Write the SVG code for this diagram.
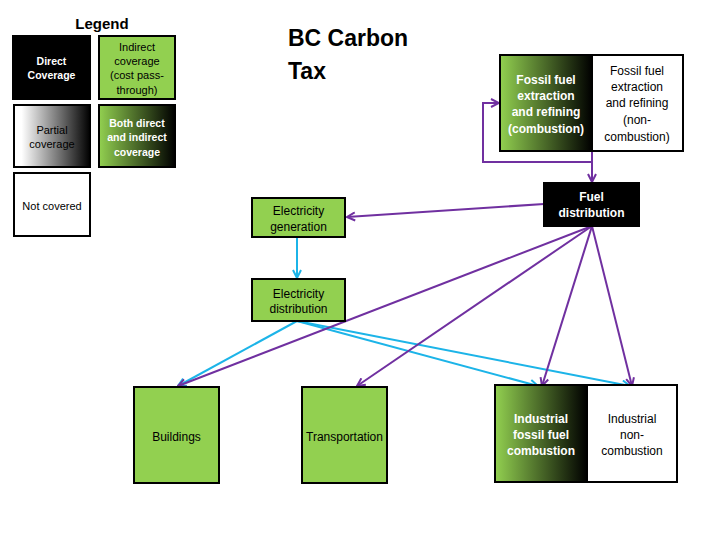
<svg xmlns="http://www.w3.org/2000/svg" width="720" height="540" viewBox="0 0 720 540">
<defs>
<linearGradient id="gb" x1="0" y1="0" x2="1" y2="0"><stop offset="0" stop-color="#92D050"/><stop offset="1" stop-color="#000"/></linearGradient>
<linearGradient id="wb" x1="0" y1="0" x2="1" y2="0"><stop offset="0.1" stop-color="#fff"/><stop offset="1" stop-color="#000"/></linearGradient>
<marker id="ap" viewBox="0 0 10 10" refX="9" refY="5" markerWidth="10" markerHeight="10" markerUnits="userSpaceOnUse" orient="auto"><path d="M1,1 L9,5 L1,9" fill="none" stroke="#7030A0" stroke-width="2"/></marker>
<marker id="ab" viewBox="0 0 10 10" refX="9" refY="5" markerWidth="10" markerHeight="10" markerUnits="userSpaceOnUse" orient="auto"><path d="M1,1 L9,5 L1,9" fill="none" stroke="#1CB4E8" stroke-width="2"/></marker>
</defs>
<style>
.b{stroke:#000;stroke-width:2}
.t{font-family:"Liberation Sans",Arial,sans-serif;font-size:12px;text-anchor:middle;fill:#000}
.tb{font-family:"Liberation Sans",Arial,sans-serif;font-size:12px;font-weight:bold;text-anchor:middle;fill:#fff}
.l{font-family:"Liberation Sans",Arial,sans-serif;font-size:11px;text-anchor:middle;fill:#000}
.lb{font-family:"Liberation Sans",Arial,sans-serif;font-size:10.5px;font-weight:bold;text-anchor:middle;fill:#fff}
.p{fill:none;stroke:#7030A0;stroke-width:2;marker-end:url(#ap)}
.c{fill:none;stroke:#1CB4E8;stroke-width:2;marker-end:url(#ab)}
</style>
<rect width="720" height="540" fill="#fff"/>
<g id="legend">
<text x="102" y="29" font-family="Liberation Sans,Arial,sans-serif" font-size="15" font-weight="bold" text-anchor="middle">Legend</text>
<rect x="13" y="36" width="77" height="63" fill="#000" class="b"/>
<text class="lb" x="51.5" y="65">Direct</text><text class="lb" x="51.5" y="79">Coverage</text>
<rect x="99" y="36" width="76" height="63" fill="#92D050" class="b"/>
<text class="l" x="137" y="51">Indirect</text><text class="l" x="137" y="65">coverage</text><text class="l" x="137" y="79">(cost pass-</text><text class="l" x="137" y="94">through)</text>
<rect x="14" y="105" width="76" height="62" fill="url(#wb)" class="b"/>
<text class="l" x="52" y="134" fill="#333">Partial</text><text class="l" x="52" y="148" fill="#333">coverage</text>
<rect x="99" y="105" width="76" height="62" fill="url(#gb)" class="b"/>
<text class="lb" x="137" y="127">Both direct</text><text class="lb" x="137" y="141">and indirect</text><text class="lb" x="137" y="156">coverage</text>
<rect x="14" y="173" width="76" height="63" fill="#fff" class="b"/>
<text class="l" x="52" y="210">Not covered</text>
</g>
<g id="title">
<text x="288" y="46" font-family="Liberation Sans,Arial,sans-serif" font-size="23" font-weight="bold">BC Carbon</text>
<text x="288" y="79" font-family="Liberation Sans,Arial,sans-serif" font-size="23" font-weight="bold">Tax</text>
</g>
<g id="connectors">
<path class="p" d="M592,151 L592,182"/>
<path class="p" d="M592,162 L483,162 L483,103 L499,103"/>
<path class="p" d="M544,204 L347,217"/>
<path class="c" d="M297,237 L297,278"/>
<path class="c" d="M297,321 L178,386"/>
<path class="c" d="M297,321 L538,386"/>
<path class="c" d="M297,321 L630,386"/>
<path class="p" d="M592,226 L178,386"/>
<path class="p" d="M592,226 L357,386"/>
<path class="p" d="M592,226 L542,386"/>
<path class="p" d="M592,226 L632,386"/>
</g>
<g id="fossil">
<rect x="500" y="55" width="92" height="96" fill="url(#gb)" class="b"/>
<rect x="592" y="55" width="91" height="96" fill="#fff" class="b"/>
<text class="tb" x="546" y="84" font-size="11.5">Fossil fuel</text><text class="tb" x="546" y="100" font-size="11.5">extraction</text><text class="tb" x="546" y="116" font-size="11.5">and refining</text><text class="tb" x="546" y="133" font-size="11.5">(combustion)</text>
<text class="t" x="637" y="75">Fossil fuel</text><text class="t" x="637" y="91">extraction</text><text class="t" x="637" y="107">and refining</text><text class="t" x="637" y="124">(non-</text><text class="t" x="637" y="141">combustion)</text>
</g>
<g id="fuel-distribution">
<rect x="544" y="183" width="95" height="43" fill="#000" class="b"/>
<text class="tb" x="591.5" y="201">Fuel</text><text class="tb" x="591.5" y="217">distribution</text>
</g>
<g id="electricity-generation">
<rect x="252" y="198" width="93" height="39" fill="#92D050" class="b"/>
<text class="t" x="298.5" y="215">Electricity</text><text class="t" x="298.5" y="231">generation</text>
</g>
<g id="electricity-distribution">
<rect x="252" y="279" width="93" height="42" fill="#92D050" class="b"/>
<text class="t" x="298.5" y="298">Electricity</text><text class="t" x="298.5" y="313">distribution</text>
</g>
<g id="buildings">
<rect x="134" y="387" width="85" height="96" fill="#92D050" class="b"/>
<text class="t" x="176.5" y="441">Buildings</text>
</g>
<g id="transportation">
<rect x="302" y="387" width="85" height="96" fill="#92D050" class="b"/>
<text class="t" x="344.5" y="441">Transportation</text>
</g>
<g id="industrial">
<rect x="495" y="385" width="92" height="97" fill="url(#gb)" class="b"/>
<rect x="587" y="385" width="90" height="97" fill="#fff" class="b"/>
<text class="tb" x="541" y="423">Industrial</text><text class="tb" x="541" y="439">fossil fuel</text><text class="tb" x="541" y="455">combustion</text>
<text class="t" x="632" y="423">Industrial</text><text class="t" x="632" y="439">non-</text><text class="t" x="632" y="455">combustion</text>
</g>
</svg>
